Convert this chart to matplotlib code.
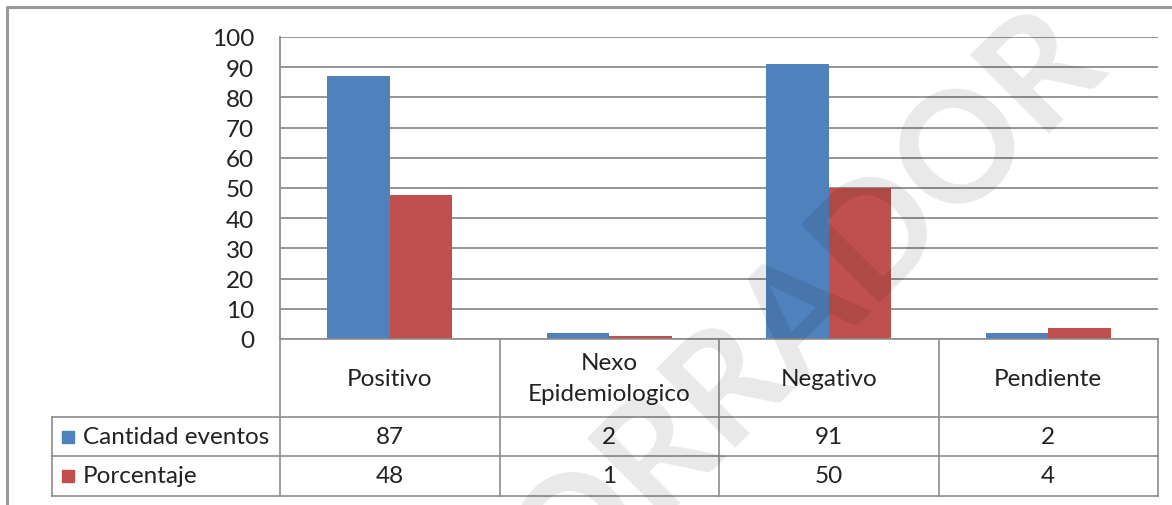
import matplotlib
matplotlib.use("Agg")
import matplotlib.pyplot as plt
import numpy as np

# datos del grafico
categorias = ["Positivo", "Nexo\nEpidemiologico", "Negativo", "Pendiente"]
series = ["Cantidad eventos", "Porcentaje"]
cantidad = [87, 2, 91, 2]
porcentaje = [47.8, 1.1, 50, 3.5]
tabla_cantidad = ["87", "2", "91", "2"]
tabla_porcentaje = ["48", "1", "50", "4"]
yticks = [0, 10, 20, 30, 40, 50, 60, 70, 80, 90, 100]

azul = "#4F81BD"
rojo = "#C0504D"
gris = "#8C8C8C"
fs = 17.5

W, H = 1172, 506
plt.rcParams['font.family'] = ['Lato', 'DejaVu Sans']
fig = plt.figure(figsize=(W / 100, H / 100), dpi=100)

# eje de las barras (en pixeles: x 280-1158, y 38-340)
x0, x1, ytop, ybot = 280, 1158, 38, 340
ax = fig.add_axes([x0 / W, 1 - ybot / H, (x1 - x0) / W, (ybot - ytop) / H])
n = len(categorias)
pos = np.arange(n)
bw = 0.285
ax.bar(pos - bw / 2, cantidad, bw, color=azul, zorder=3)
ax.bar(pos + bw / 2, porcentaje, bw, color=rojo, zorder=3)
ax.set_xlim(-0.5, n - 0.5)
ax.set_ylim(0, 100)
ax.set_yticks(yticks)
ax.set_yticklabels([str(t) for t in yticks], fontsize=fs, color="#222222")
ax.tick_params(axis='y', length=0, pad=18.5)
ax.tick_params(axis='x', length=0, labelbottom=False)
ax.grid(axis='y', color=gris, linewidth=1.3, zorder=0)
for s in ["top", "right", "bottom"]:
    ax.spines[s].set_visible(False)
ax.spines["left"].set_color(gris)
ax.spines["left"].set_linewidth(1.3)
ax.patch.set_alpha(0)

# capa en pixeles para la tabla, el borde y la marca de agua
ov = fig.add_axes([0, 0, 1, 1])
ov.set_xlim(0, W)
ov.set_ylim(H, 0)
ov.axis("off")
ov.patch.set_alpha(0)

# borde exterior
ov.plot([7, 7, W], [H, 8, 8], color="#999999", linewidth=2.2)

# tabla de datos
col_w = (x1 - x0) / n
r0, r1, r2, r3 = 340, 418, 457, 497
lw = 1.2
ov.plot([x0, x0], [ybot, r3], color=gris, lw=lw)
ov.plot([x0, x1], [r0, r0], color=gris, lw=lw)
for yy in [r1, r2, r3]:
    ov.plot([52, x1], [yy, yy], color=gris, lw=lw)
ov.plot([52, 52], [r1, r3], color=gris, lw=lw)
for i in range(1, n + 1):
    xx = x0 + i * col_w
    ov.plot([xx, xx], [r0, r3], color=gris, lw=lw)

for i, cat in enumerate(categorias):
    cx = x0 + (i + 0.5) * col_w
    ov.text(cx, (r0 + r1) / 2, cat, ha="center", va="center", fontsize=fs,
            color="#222222", linespacing=1.6)
    ov.text(cx, (r1 + r2) / 2, tabla_cantidad[i], ha="center", va="center",
            fontsize=fs, color="#222222")
    ov.text(cx, (r2 + r3) / 2, tabla_porcentaje[i], ha="center", va="center",
            fontsize=fs, color="#222222")

for (nombre, col, ya, yb) in [(series[0], azul, r1, r2), (series[1], rojo, r2, r3)]:
    ym = (ya + yb) / 2
    ov.add_patch(plt.Rectangle((62, ym - 6), 12, 12, color=col))
    ov.text(83, ym, nombre, ha="left", va="center", fontsize=fs, color="#222222")

# marca de agua
ov.text(770, 338, "BORRADOR", ha="center", va="center", rotation=45,
        rotation_mode="anchor", fontsize=110, fontweight="bold",
        color="black", alpha=0.09, zorder=10)

fig.savefig("out.png", dpi=100)
